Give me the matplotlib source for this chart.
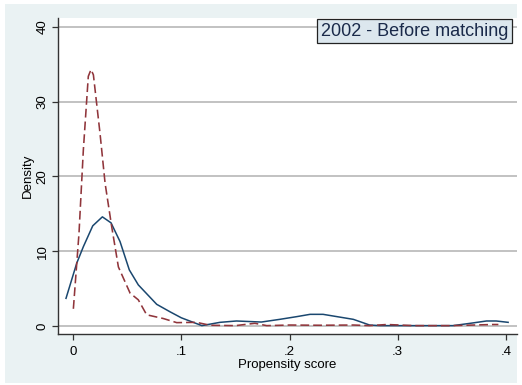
import numpy as np
import matplotlib
matplotlib.use('Agg')
import matplotlib.pyplot as plt
from matplotlib.patches import Rectangle

# density of the propensity score
treated_x = [-0.0065, 0.0034, 0.0095, 0.0182, 0.0271, 0.0351, 0.0434, 0.052, 0.0603,
             0.0773, 0.0896, 0.1, 0.119, 0.1358, 0.151, 0.174, 0.191, 0.2066, 0.219,
             0.231, 0.259, 0.274, 0.2836, 0.351, 0.367, 0.382, 0.391, 0.402]
treated_y = [3.7, 8.4, 10.6, 13.4, 14.6, 13.8, 11.3, 7.5, 5.5,
             2.9, 1.9, 1.1, 0.05, 0.49, 0.67, 0.53, 0.89, 1.25, 1.56,
             1.56, 0.89, 0.13, 0.05, 0.05, 0.36, 0.67, 0.67, 0.49]

control_x = [0.0003, 0.0055, 0.0095, 0.0141, 0.0166, 0.0188, 0.0249, 0.0296, 0.0357,
             0.0419, 0.0527, 0.0603, 0.068, 0.0834, 0.0958, 0.114, 0.1266, 0.15,
             0.168, 0.179, 0.2005, 0.228, 0.259, 0.274, 0.29, 0.315, 0.35, 0.388, 0.393]
control_y = [2.3, 12.4, 23.5, 33.4, 34.3, 33.6, 25.8, 19.1, 13.3,
             7.9, 4.4, 3.5, 1.5, 1.0, 0.45, 0.49, 0.1, 0.05,
             0.36, 0.05, 0.13, 0.1, 0.13, 0.05, 0.2, 0.05, 0.05, 0.2, 0.2]

xticks = [0, 0.1, 0.2, 0.3, 0.4]
xticklabels = ['0', '.1', '.2', '.3', '.4']
yticks = [0, 10, 20, 30, 40]

plt.rcParams['font.family'] = ['Liberation Sans', 'DejaVu Sans']

W, H = 522, 385
fig = plt.figure(figsize=(W / 100, H / 100), dpi=100, facecolor='white')

# stata-like graph region
fig.patches.append(Rectangle((5 / W, 2 / H), (517 - 5) / W, (381 - 2) / H,
                             transform=fig.transFigure, facecolor='#eaf2f3',
                             edgecolor='none', zorder=-10))

ax = fig.add_axes([58 / W, 1 - 334 / H, (517 - 58) / W, (334 - 18) / H])
ax.set_facecolor('white')

ax.plot(treated_x, treated_y, color='#1a476f', lw=1.1, zorder=3)
ax.plot(control_x, control_y, color='#90353b', lw=1.15, dashes=(5.5, 2.5), zorder=3)

ax.set_xlim(-0.0139, 0.4102)
ax.set_ylim(-1.07, 41.2)

ax.set_xticks(xticks)
ax.set_xticklabels(xticklabels)
ax.set_yticks(yticks)
ax.set_yticklabels([str(v) for v in yticks], rotation=90, va='center')

ax.yaxis.grid(True, color='#b8b8b8', lw=1.2)
ax.set_axisbelow(True)

for s in ['top', 'right']:
    ax.spines[s].set_visible(False)
for s in ['left', 'bottom']:
    ax.spines[s].set_color('#333333')
    ax.spines[s].set_linewidth(1.0)

ax.tick_params(axis='both', direction='out', length=4.3, width=0.9, color='#333333',
               labelsize=9.5, labelcolor='black')
ax.tick_params(axis='x', pad=4)
ax.tick_params(axis='y', pad=2.5)

ax.set_xlabel('Propensity score', fontsize=9.5, labelpad=1)
ax.set_ylabel('Density', fontsize=9.5, labelpad=2)

ax.text(0.981, 0.985, '2002 - Before matching', transform=ax.transAxes,
        ha='right', va='top', fontsize=13, color='#1a2a4a', zorder=5,
        bbox=dict(boxstyle='square,pad=0.2', facecolor='#dce7ee',
                  edgecolor='#222222', lw=0.9))

fig.savefig('out.png', dpi=100, facecolor='white')
